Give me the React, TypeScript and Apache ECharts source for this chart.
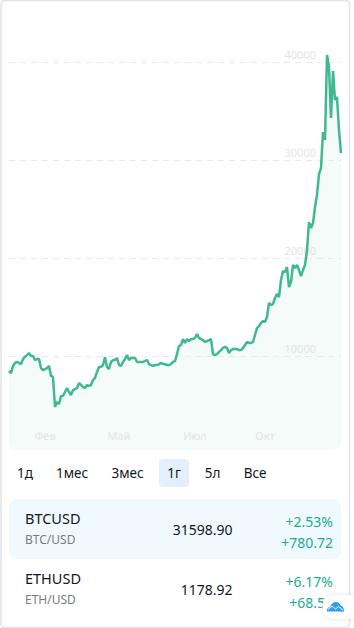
import React, { useEffect, useRef } from "react";
import * as echarts from "echarts";

const closes = [
  8470, 8260, 8980, 9290, 9390, 9290, 9180, 9690, 9900, 10100, 10300, 10000, 10000, 9590, 9690, 9690, 8770, 8570, 8670, 8770,
  8980, 7960, 7860, 4800, 5300, 5100, 5920, 5920, 6330, 6730, 6330, 6020, 6530, 6630, 6730, 7240, 7040, 6840, 6730, 7040,
  6940, 7040, 7550, 7760, 8370, 8880, 8880, 9080, 9900, 8880, 8670, 9390, 9590, 9590, 9800, 9080, 8980, 9390, 9690, 10100,
  9590, 9800, 9800, 9800, 9390, 9390, 9390, 9390, 9490, 9590, 9180, 9080, 8980, 9080, 9080, 9180, 9290, 9180, 9180, 9080,
  9080, 9180, 9390, 9490, 10200, 11020, 11120, 11730, 11330, 11730, 11530, 11730, 11730, 11840, 12240, 11840, 11730, 11630, 11430, 11530,
  11630, 11730, 10200, 10100, 10200, 10410, 10610, 10820, 10920, 10820, 10300, 10610, 10710, 10710, 10710, 10610, 10610, 10820, 11120, 11430,
  11330, 11330, 11430, 12140, 12850, 13060, 13370, 13570, 13470, 13980, 15410, 15200, 15310, 15920, 16330, 16020, 17750, 18670, 18570, 19080,
  17040, 17550, 19290, 18980, 19290, 18770, 18160, 18770, 19290, 20810, 23670, 23060, 23570, 25200, 26430, 28570, 29180, 32860, 32040, 40710,
  39490, 34290, 39080, 36120, 36430, 33060, 30710,
];
const monthTicks: Record<number, string> = { 18: "Фев", 55: "Май", 93: "Июл", 128: "Окт" };
const ranges = ["1д", "1мес", "3мес", "1г", "5л", "Все"];
const symbols = ["BTCUSD", "ETHUSD"];
const pairs = ["BTC/USD", "ETH/USD"];
const prices = ["31598.90", "1178.92"];
const percents = ["+2.53%", "+6.17%"];
const changes = ["+780.72", "+68.50"];

const FONT = "'Noto Sans', sans-serif";
const rangeX = [25, 72, 127.5, 174, 212.5, 255];

export default function App() {
  const ref = useRef<HTMLDivElement>(null);
  useEffect(() => {
    document.body.style.margin = "0";
    echarts.graphic.registerShape(
      "cornerL",
      echarts.graphic.extendPath("M9 442 A8 8 0 0 0 17 450 L17 455 L9 455 Z", {})
    );
    echarts.graphic.registerShape(
      "cornerR",
      echarts.graphic.extendPath("M341 442 A8 8 0 0 1 333 450 L333 455 L341 455 Z", {})
    );
    echarts.graphic.registerShape(
      "cloud",
      echarts.graphic.extendPath(
        "M327 611.500 Q326.500 607.500 330 607 Q332 602 336 602 Q339.500 602 340.500 605.500 Q344 606 344 611.500 Z",
        {}
      )
    );
    const chart = echarts.init(ref.current!, undefined, { renderer: "svg" });
    const text = (t: string, x: number, y: number, size: number, fill: string, align = "left") => ({
      type: "text",
      x,
      y,
      z: 50,
      style: { text: t, fill, font: `${size}px ${FONT}`, textAlign: align, textVerticalAlign: "middle" },
    });
    const elements: any[] = [
      {
        type: "rect",
        z: 60,
        shape: { x: 1, y: 0.5, width: 348.5, height: 627, r: 4 },
        style: { fill: "none", stroke: "#e0e3eb", lineWidth: 1.5 },
      },
      { type: "cornerL", z: 40, style: { fill: "#fff" } },
      { type: "cornerR", z: 40, style: { fill: "#fff" } },
      { type: "rect", z: 40, shape: { x: 9, y: 450, width: 332, height: 5 }, style: { fill: "#fff" } },
      { type: "rect", z: 41, shape: { x: 159, y: 459, width: 30, height: 28, r: 4 }, style: { fill: "#e3effd" } },
      { type: "rect", z: 41, shape: { x: 9, y: 499, width: 332, height: 60, r: 8 }, style: { fill: "#f0f9fd" } },
    ];
    ranges.forEach((r, i) => elements.push(text(r, rangeX[i], 473, 13.5, "#131722", "center")));
    symbols.forEach((s, i) => {
      const dy = i * 60;
      elements.push(text(s, 25, 517.5 + dy, 14.5, "#131722"));
      elements.push(text(pairs[i], 25, 539 + dy, 12, "#787b86"));
      elements.push(text(prices[i], 232.5, 529 + dy, 14, "#131722", "right"));
      elements.push(text(percents[i], 333, 521 + dy, 14, "#22ab94", "right"));
      elements.push(text(changes[i], 333, 542 + dy, 14, "#22ab94", "right"));
    });
    elements.push({
      type: "rect",
      z: 70,
      shape: { x: 322.5, y: 595, width: 40, height: 24, r: 12 },
      style: { fill: "#fff", shadowBlur: 4, shadowColor: "rgba(0,0,0,0.12)" },
    });
    elements.push({ type: "cloud", z: 71, style: { fill: "#2e9ef5" } });
    elements.push({
      type: "polyline",
      z: 72,
      shape: { points: [[328, 609.5], [332, 606], [335.5, 609], [338.5, 606.5], [343, 610]] },
      style: { fill: "none", stroke: "#fff", lineWidth: 1 },
    });
    chart.setOption({
      animation: false,
      grid: { left: 9, right: 13, top: 13, bottom: 174 },
      xAxis: {
        type: "category",
        boundaryGap: false,
        data: closes.map((_, i) => String(i)),
        z: 2,
        axisLine: { show: false },
        axisTick: { show: false },
        splitLine: { show: false },
        axisLabel: {
          inside: true,
          margin: 13,
          interval: (i: number) => i in monthTicks,
          formatter: (_: string, i: number) => monthTicks[i] || "",
          color: "#e3e5e8",
          fontFamily: FONT,
          fontSize: 11,
          verticalAlign: "bottom",
        },
      },
      yAxis: {
        type: "value",
        position: "right",
        min: 0,
        max: 45000,
        interval: 10000,
        z: 2,
        axisLine: { show: false },
        axisTick: { show: false },
        splitLine: {
          show: true,
          showMinLine: false,
          showMaxLine: false,
          lineStyle: { color: "#e8e9ea", width: 1, type: [6, 5] },
        },
        axisLabel: {
          inside: true,
          margin: 25,
          color: "#e3e5e8",
          fontFamily: FONT,
          fontSize: 11,
          verticalAlign: "bottom",
          padding: [0, 0, 2, 0],
          formatter: (v: number) => (v === 0 || v > 40000 ? "" : String(v)),
        },
      },
      series: [
        {
          type: "line",
          data: closes,
          symbol: "none",
          lineStyle: { width: 0, opacity: 0 },
          areaStyle: { color: "#f4fbf8", opacity: 1 },
          z: 1,
        },
        {
          type: "line",
          data: closes,
          symbol: "none",
          lineStyle: { color: "#40b992", width: 2.5 },
          z: 3,
        },
      ],
      graphic: { elements },
    });
    return () => chart.dispose();
  }, []);
  return <div ref={ref} style={{ width: 354, height: 628 }} />;
}
